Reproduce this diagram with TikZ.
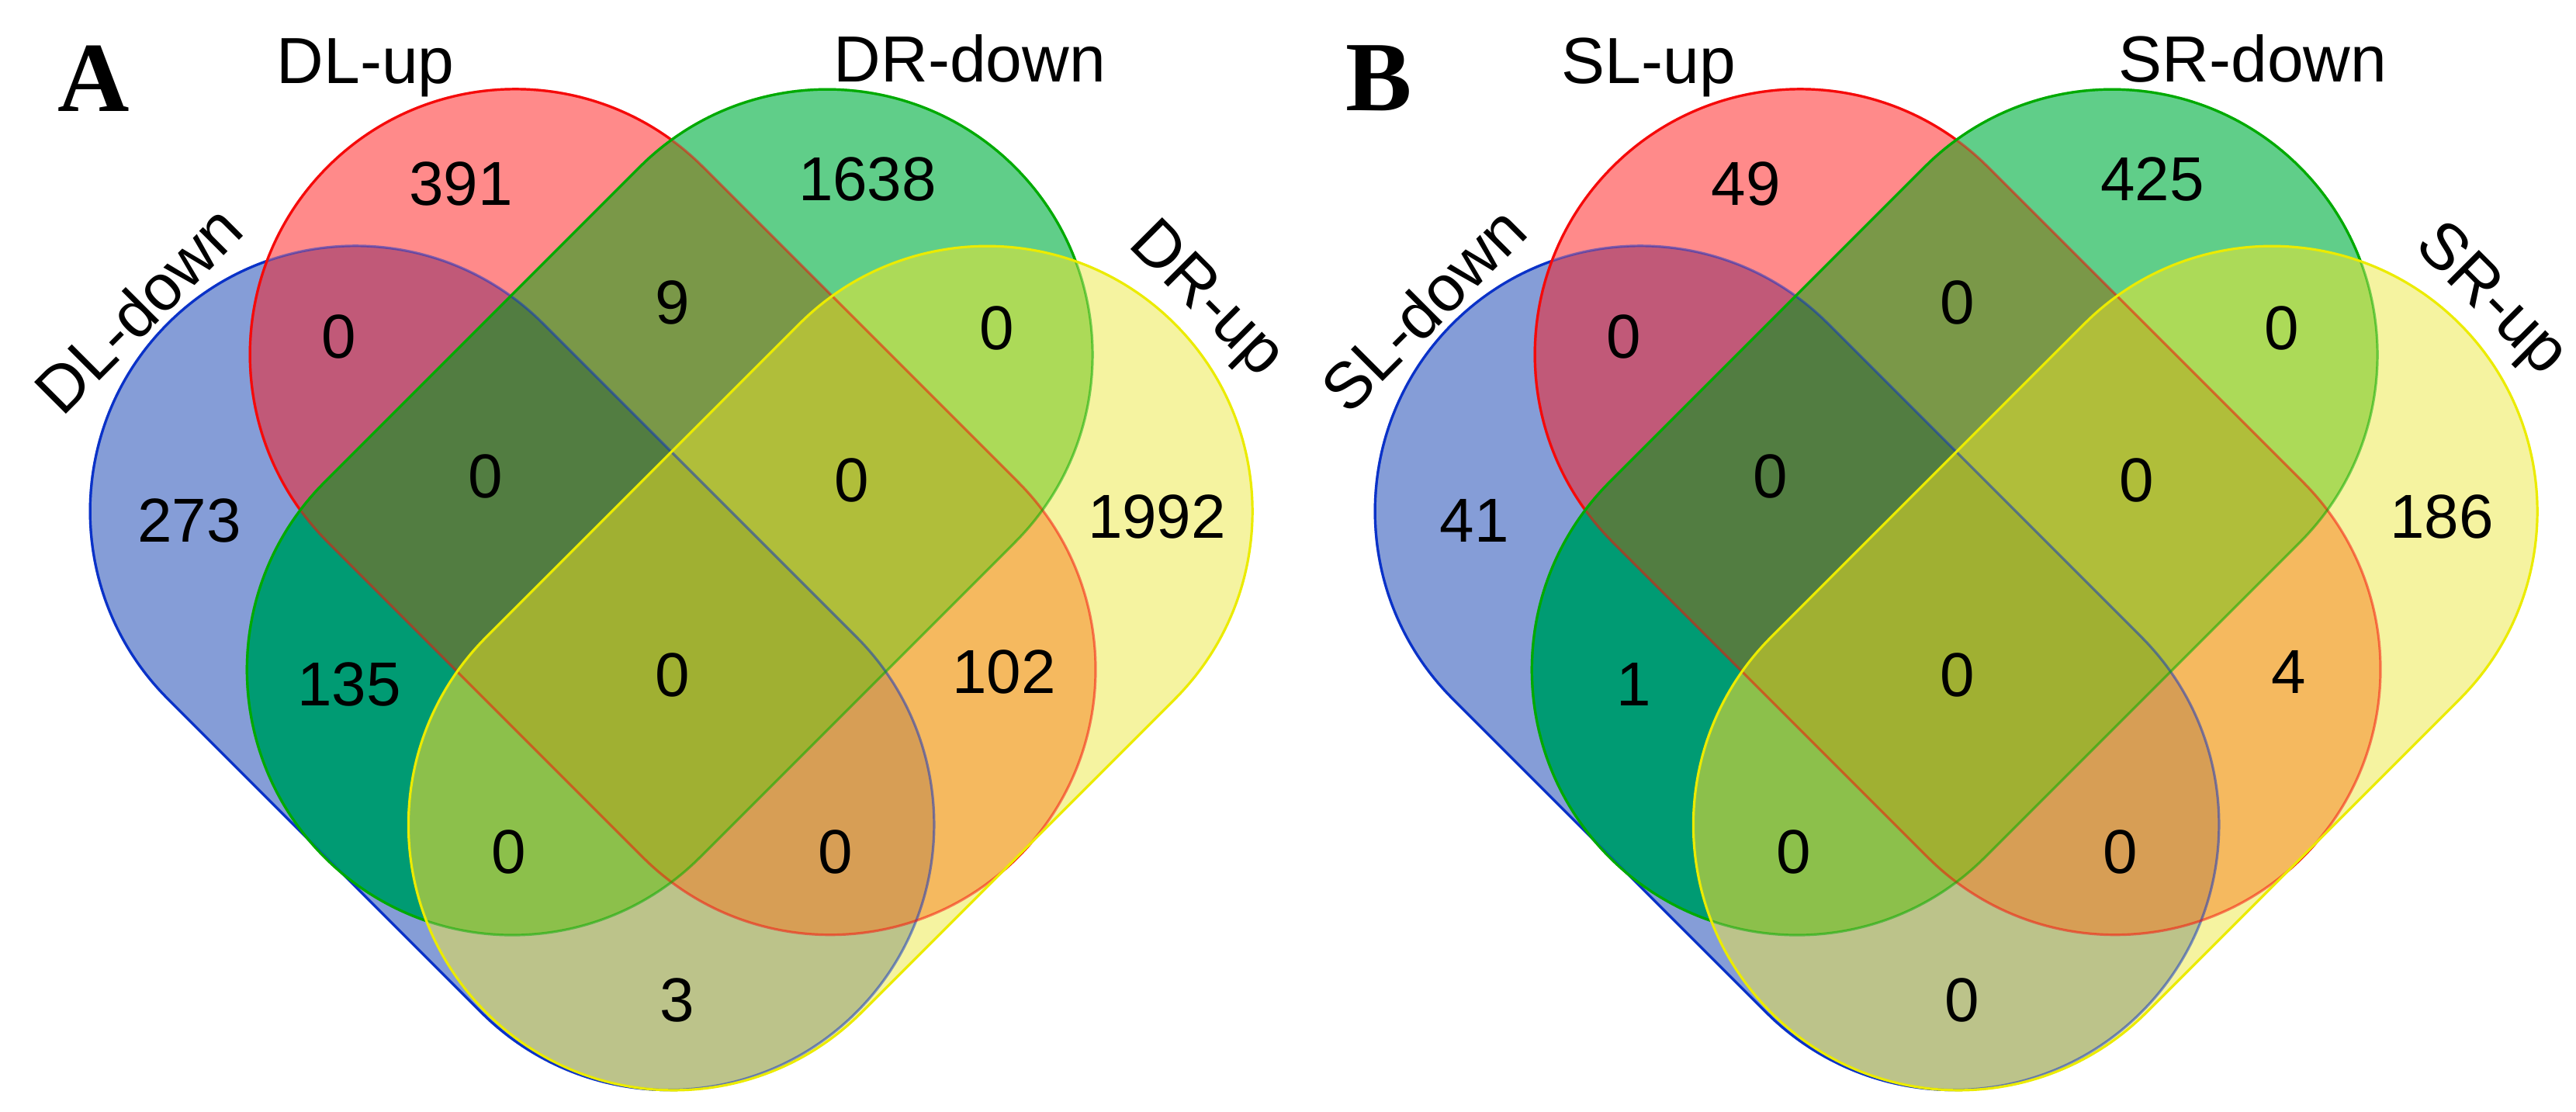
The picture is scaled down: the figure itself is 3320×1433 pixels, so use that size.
\documentclass[tikz,border=0pt]{standalone}
\usepackage{fontspec}
\setmainfont{Liberation Sans}
\newfontfamily\panelfont{Liberation Serif}
% region fill colours
\definecolor{cB}{RGB}{133,157,215}
\definecolor{cR}{RGB}{255,138,138}
\definecolor{cG}{RGB}{96,206,137}
\definecolor{cY}{RGB}{245,243,160}
\definecolor{cBR}{RGB}{193,89,120}
\definecolor{cBG}{RGB}{0,155,115}
\definecolor{cBY}{RGB}{188,195,138}
\definecolor{cRG}{RGB}{122,152,72}
\definecolor{cRY}{RGB}{245,185,95}
\definecolor{cGY}{RGB}{172,218,88}
\definecolor{cBRG}{RGB}{82,125,65}
\definecolor{cBRY}{RGB}{215,158,85}
\definecolor{cBGY}{RGB}{140,192,75}
\definecolor{cRGY}{RGB}{176,190,58}
\definecolor{cBRGY}{RGB}{160,176,50}
% outline colours
\definecolor{sB}{RGB}{10,50,200}
\definecolor{sR}{RGB}{245,10,10}
\definecolor{sG}{RGB}{0,170,0}
\definecolor{sY}{RGB}{235,235,0}
% the four stadium shapes (pixel coordinates, y downwards)
\newcommand\ShB{(700,417) -- ++(45:571) arc[start angle=-45,end angle=135,radius=342] -- ++(225:571) arc[start angle=135,end angle=315,radius=342] -- cycle}
\newcommand\ShR{(906,215) -- ++(45:574) arc[start angle=-45,end angle=135,radius=342] -- ++(225:574) arc[start angle=135,end angle=315,radius=342] -- cycle}
\newcommand\ShG{(1308,699) -- ++(135:574) arc[start angle=45,end angle=225,radius=342] -- ++(315:574) arc[start angle=225,end angle=405,radius=342] -- cycle}
\newcommand\ShY{(1514,901) -- ++(135:571) arc[start angle=45,end angle=225,radius=342] -- ++(315:571) arc[start angle=225,end angle=405,radius=342] -- cycle}
% outer frame, drawn in the opposite sense to the shapes (for inverse clipping)
\newcommand\BigR{(-300,-300) -- (-300,1800) -- (2100,1800) -- (2100,-300) -- cycle}
\newcommand\region[2]{\begin{scope}#2\fill[#1] (-50,-50) rectangle (1800,1500);\end{scope}}
\newcommand\outl[3]{\draw[edge,draw=#1,opacity=0.5] #2;\begin{scope}#3\draw[edge,draw=#1] #2;\end{scope}}
\tikzset{
  lab/.style={font=\fontsize{21pt}{24pt}\selectfont, inner sep=0pt},
  num/.style={font=\fontsize{20pt}{24pt}\selectfont, inner sep=0pt},
  panellet/.style={font=\fontsize{32pt}{36pt}\selectfont\panelfont\bfseries, inner sep=0pt},
  edge/.style={line width=0.8pt, line join=round},
}
\newcommand\vennpanel[7]{%
  % singles
  \region{cB}{\clip\ShB;}
  \region{cR}{\clip\ShR;}
  \region{cG}{\clip\ShG;}
  \region{cY}{\clip\ShY;}
  % pairs
  \region{cBR}{\clip\ShB;\clip\ShR;}
  \region{cBG}{\clip\ShB;\clip\ShG;}
  \region{cBY}{\clip\ShB;\clip\ShY;}
  \region{cRG}{\clip\ShR;\clip\ShG;}
  \region{cRY}{\clip\ShR;\clip\ShY;}
  \region{cGY}{\clip\ShG;\clip\ShY;}
  % triples
  \region{cBRG}{\clip\ShB;\clip\ShR;\clip\ShG;}
  \region{cBRY}{\clip\ShB;\clip\ShR;\clip\ShY;}
  \region{cBGY}{\clip\ShB;\clip\ShG;\clip\ShY;}
  \region{cRGY}{\clip\ShR;\clip\ShG;\clip\ShY;}
  % all four
  \region{cBRGY}{\clip\ShB;\clip\ShR;\clip\ShG;\clip\ShY;}
  % outlines
  \outl{sB}{\ShB}{\clip\BigR\ShR;\clip\BigR\ShG;\clip\BigR\ShY;}
  \outl{sR}{\ShR}{\clip\BigR\ShG;\clip\BigR\ShY;}
  \outl{sG}{\ShG}{\clip\BigR\ShY;}
  \draw[edge,draw=sY] \ShY;
  % labels
  \node[panellet] (#1-letter) at (121,101) {#2};
  \node[lab, rotate=45] (#1-setB) at (178,398) {#3};
  \node[lab, anchor=base west] (#1-setR) at (356,108) {#4};
  \node[lab, anchor=base west] (#1-setG) at (1074,106) {#5};
  \node[lab, rotate=-45] (#1-setY) at (1553,388) {#6};
  % counts
  \foreach \px/\py/\t [count=\i] in {#7} {\node[num] (#1-n\i) at (\px,\py) {\t};}
}
\begin{document}
\begin{tikzpicture}[x=0.25pt,y=-0.25pt]
\useasboundingbox (0,0) rectangle (3320,1433);
\begin{scope}
\vennpanel{a}{A}{DL-down}{DL-up}{DR-down}{DR-up}{594/237/391, 1118/231/1638, 437/434/0, 867/390/9, 1285/423/0, 244/671/273, 626/614/0, 1098/619/0, 1491/666/1992, 450/882/135, 867/870/0, 1294/866/102, 656/1098/0, 1077/1098/0, 873/1289/3}
\end{scope}
\begin{scope}[xshift=414pt]
\vennpanel{b}{B}{SL-down}{SL-up}{SR-down}{SR-up}{594/237/49, 1118/231/425, 437/434/0, 867/390/0, 1285/423/0, 244/671/41, 626/614/0, 1098/619/0, 1491/666/186, 450/882/1, 867/870/0, 1294/866/4, 656/1098/0, 1077/1098/0, 873/1289/0}
\end{scope}
\end{tikzpicture}
\end{document}
